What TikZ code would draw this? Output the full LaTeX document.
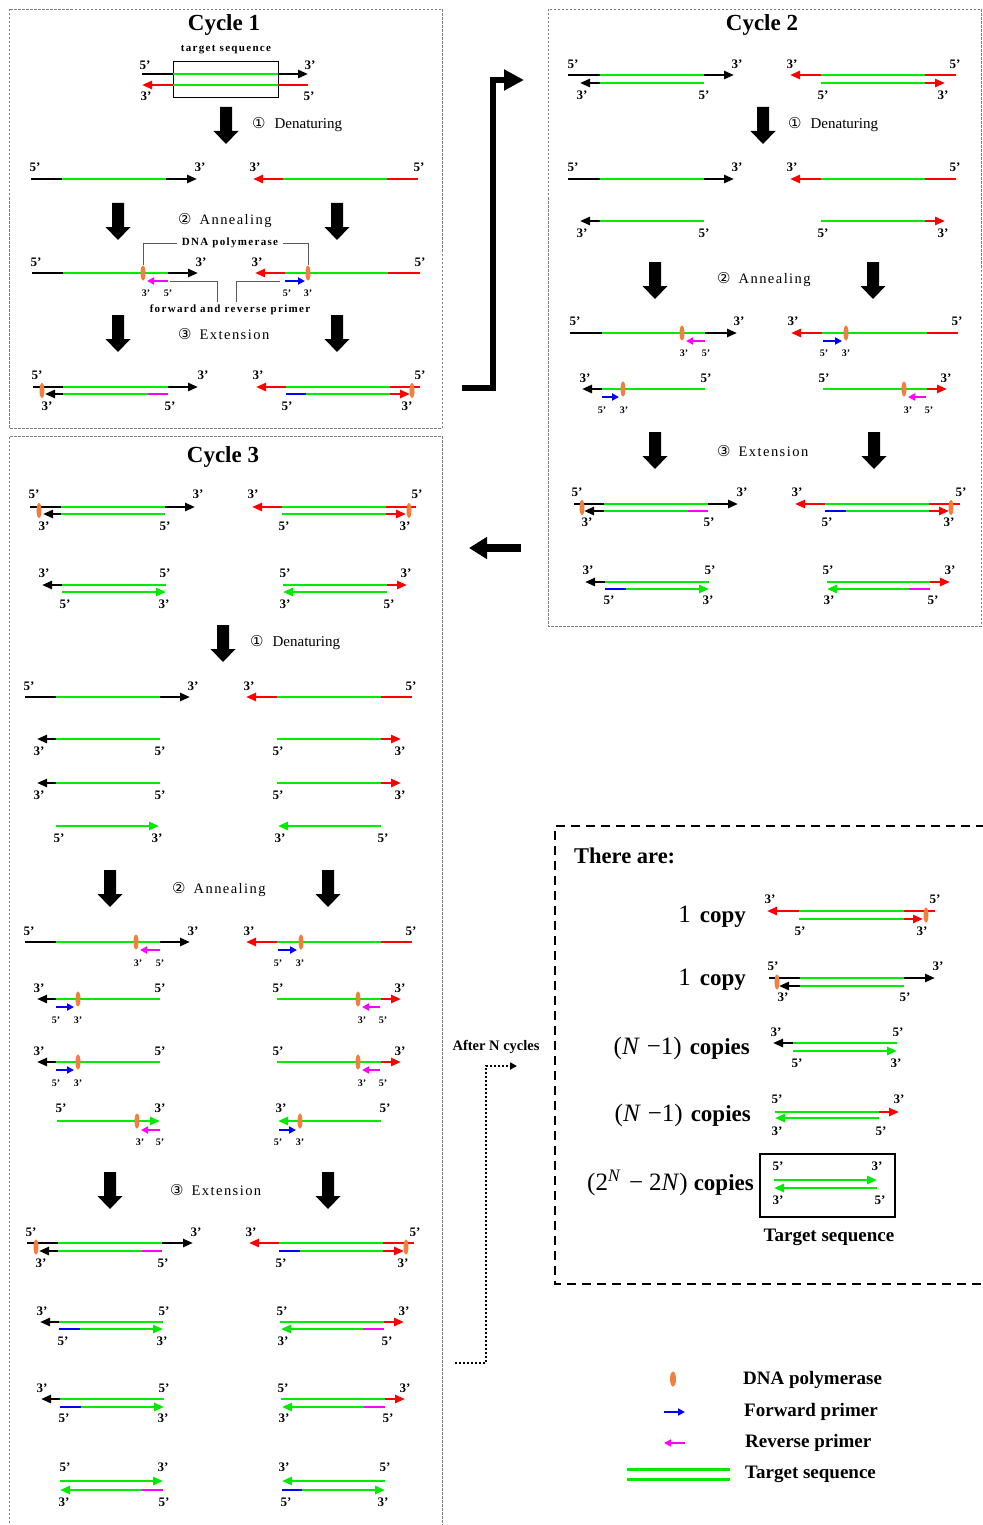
\documentclass[tikz,border=0pt]{standalone}
\usepackage{fontspec}
\setmainfont{Liberation Serif}
\newfontfamily\symf{DejaVu Sans}
\newfontfamily\spacedf[LetterSpace=10]{Liberation Serif}
\newfontfamily\spacedbf[LetterSpace=12]{Liberation Serif}
\usetikzlibrary{arrows.meta,shapes.geometric}

\definecolor{gr}{RGB}{0,235,0}
\definecolor{rd}{RGB}{255,0,0}
\definecolor{bl}{RGB}{0,0,255}
\definecolor{mg}{RGB}{255,0,255}
\definecolor{og}{RGB}{240,128,64}
\definecolor{pg}{RGB}{125,125,125}

% fonts
\newcommand\fLab{\fontsize{13}{13}\selectfont\bfseries}
\newcommand\fSm{\fontsize{10}{10}\selectfont\bfseries}
\newcommand\fTitle{\fontsize{23}{23}\selectfont\bfseries}
\newcommand\fTiny{\spacedbf\fontsize{11}{11}\selectfont\bfseries}
\newcommand\fCopy{\fontsize{23}{23}\selectfont\bfseries}
\newcommand\fMath{\fontsize{25}{25}\selectfont\mdseries}
\newcommand\fLeg{\fontsize{19}{19}\selectfont\bfseries}
\newcommand\cn[1]{{\symf\fontsize{15}{15}\selectfont #1}}
\newcommand\stA{\spacedf\fontsize{14.5}{14.5}\selectfont}
\newcommand\stD{\fontsize{15}{15}\selectfont}

\tikzset{
  x=1pt, y=-1pt,
  strand/.style={line width=2.8pt, line cap=butt},
  tipA/.style={-{Triangle[length=10pt,width=8pt]}},
  prim/.style={line width=2.5pt, line cap=butt, -{Triangle[length=7pt,width=7pt]}},
  pol/.style={ellipse, fill=og, draw=none, minimum width=5pt, minimum height=15pt, inner sep=0pt},
  lab/.style={font=\fLab, inner sep=0pt},
  slab/.style={font=\fSm, inner sep=0pt},
  panel/.style={draw=pg, line width=0.9pt, dash pattern=on 2.5pt off 1.5pt},
  brk/.style={draw=black!65, line width=0.9pt},
  stagelab/.style={anchor=west, inner sep=0pt},
}

% strand pieces: colour, x from, x to, y
\newcommand\Sg[4]{\draw[strand,#1] (#2,#4) -- (#3,#4);}
\newcommand\Sa[4]{\draw[strand,#1,tipA] (#2,#4) -- (#3,#4);}
\newcommand\Pa[4]{\draw[prim,#1] (#2,#4) -- (#3,#4);}
\newcounter{nd}
\newcommand\Lb[3]{\stepcounter{nd}\node[lab] (q\arabic{nd}) at (#1,#2) {#3’};}
\newcommand\Ls[3]{\stepcounter{nd}\node[slab] (q\arabic{nd}) at (#1,#2) {#3’};}
\newcommand\Pol[2]{\stepcounter{nd}\node[pol] (q\arabic{nd}) at (#1,#2) {};}
% thick process arrow pointing down: centre x, top y
\newcommand\Dn[2]{\fill[black] (#1-6,#2) -- (#1+6,#2) -- (#1+6,#2+24) -- (#1+12.5,#2+24) -- (#1,#2+37) -- (#1-12.5,#2+24) -- (#1-6,#2+24) -- cycle;}

\begin{document}
\begin{tikzpicture}
\useasboundingbox (0,0) rectangle (982,1525);
\fill[white] (0,0) rectangle (982,1525);

% ---------------- panels ----------------
\draw[panel] (9,9) rectangle (442,428);
\draw[panel] (548,9) rectangle (981,626);
\draw[panel] (9,1535) -- (9,436) -- (442,436) -- (442,1535);

% ================= Cycle 1 =================
\node[font=\fTitle] (c1) at (224,25) {Cycle 1};
\node[font=\fTiny, inner sep=0pt] (ts) at (226,50) {target sequence};
\draw[line width=0.8pt] (173,61) rectangle (278,97);
\Sg{black}{142}{173}{74} \Sg{gr}{173}{278}{74} \Sa{black}{278}{308}{74}
\Sa{rd}{173}{142}{85} \Sg{gr}{173}{278}{85} \Sg{rd}{278}{308}{85}
\Lb{145}{65}{5} \Lb{310}{65}{3} \Lb{146}{96}{3} \Lb{309}{96}{5}

\Dn{226}{107}
\node[stagelab] (d1) at (252,125) {\cn{①}\hspace{9pt}\stD Denaturing};

\Sg{black}{31}{62}{179} \Sg{gr}{62}{166}{179} \Sa{black}{166}{197}{179}
\Lb{35}{167}{5} \Lb{200}{167}{3}
\Sa{rd}{283}{253}{179} \Sg{gr}{283}{387}{179} \Sg{rd}{387}{418}{179}
\Lb{255}{167}{3} \Lb{419}{167}{5}

\Dn{118}{203} \Dn{337}{203}
\node[stagelab] (a1) at (178,221) {\cn{②}\hspace{8pt}\stA Annealing};

\Sg{black}{32}{63}{273} \Sg{gr}{63}{168}{273} \Sa{black}{168}{198}{273}
\node[pol] (p1) at (143,273) {};
\Pa{mg}{168}{147}{281}
\Ls{146}{293}{3} \Ls{168}{293}{5}
\Lb{36}{262}{5} \Lb{201}{262}{3}
\Sa{rd}{285}{255}{273} \Sg{gr}{285}{388}{273} \Sg{rd}{388}{420}{273}
\node[pol] (p2) at (308,273) {};
\Pa{bl}{285}{305}{281}
\Ls{287}{293}{5} \Ls{308}{293}{3}
\Lb{257}{262}{3} \Lb{420}{262}{5}

\node[font=\fTiny, inner sep=5pt] (dpt) at (230,243) {DNA polymerase};
\draw[brk] (dpt.west) -| (p1.north);
\draw[brk] (dpt.east) -| (p2.north);
\node[font=\fTiny, inner sep=0pt] (fr) at (230,310) {forward and reverse primer};
\coordinate (mT) at (170,281); \coordinate (fa) at (217,302);
\coordinate (bT) at (280,281); \coordinate (fb) at (236,302);
\draw[brk] (mT) -| (fa);
\draw[brk] (bT) -| (fb);

\Dn{118}{315} \Dn{337}{315}
\node[stagelab] (e1) at (178,334) {\cn{③}\hspace{8pt}\stA Extension};

\Sg{black}{33}{63}{387} \Sg{gr}{63}{168}{387} \Sa{black}{168}{198}{387}
\Sa{black}{63}{45}{394} \Sg{gr}{63}{148}{394} \Sg{mg}{148}{168}{394}
\Pol{42}{390.5}
\Lb{37}{375}{5} \Lb{203}{375}{3} \Lb{47}{406}{3} \Lb{170}{406}{5}
\Sa{rd}{286}{256}{387} \Sg{gr}{286}{390}{387} \Sg{rd}{390}{420}{387}
\Sg{bl}{286}{306}{394} \Sg{gr}{306}{390}{394} \Sa{rd}{390}{410}{394}
\Pol{412}{390.5}
\Lb{258}{375}{3} \Lb{420}{375}{5} \Lb{287}{406}{5} \Lb{407}{406}{3}

% ================= Cycle 2 =================
\node[font=\fTitle] (c2) at (762,25) {Cycle 2};
\Sg{black}{568}{600}{75} \Sg{gr}{600}{704}{75} \Sa{black}{704}{734}{75}
\Sa{black}{600}{580}{83} \Sg{gr}{600}{704}{83}
\Lb{573}{64}{5} \Lb{737}{64}{3} \Lb{582}{95}{3} \Lb{704}{95}{5}
\Sa{rd}{821}{790}{75} \Sg{gr}{821}{925}{75} \Sg{rd}{925}{956}{75}
\Sg{gr}{821}{925}{83} \Sa{rd}{925}{945}{83}
\Lb{792}{64}{3} \Lb{955}{64}{5} \Lb{823}{95}{5} \Lb{943}{95}{3}

\Dn{763}{107}
\node[stagelab] (d2) at (788,125) {\cn{①}\hspace{9pt}\stD Denaturing};

\Sg{black}{568}{600}{179} \Sg{gr}{600}{704}{179} \Sa{black}{704}{734}{179}
\Lb{573}{167}{5} \Lb{737}{167}{3}
\Sa{rd}{821}{790}{179} \Sg{gr}{821}{925}{179} \Sg{rd}{925}{956}{179}
\Lb{792}{167}{3} \Lb{955}{167}{5}

\Sa{black}{600}{580}{221} \Sg{gr}{600}{704}{221}
\Lb{582}{233}{3} \Lb{704}{233}{5}
\Sg{gr}{821}{925}{221} \Sa{rd}{925}{945}{221}
\Lb{823}{233}{5} \Lb{943}{233}{3}

\Dn{655}{262} \Dn{873}{262}
\node[stagelab] (a2) at (717,280) {\cn{②}\hspace{8pt}\stA Annealing};

\Sg{black}{570}{602}{333} \Sg{gr}{602}{705}{333} \Sa{black}{705}{737}{333}
\Pol{682}{333} \Pa{mg}{705}{686}{341}
\Ls{684}{353}{3} \Ls{706}{353}{5}
\Lb{575}{321}{5} \Lb{739}{321}{3}
\Sa{rd}{822}{791}{333} \Sg{gr}{822}{927}{333} \Sg{rd}{927}{958}{333}
\Pol{846}{333} \Pa{bl}{823}{842}{341}
\Ls{824}{353}{5} \Ls{846}{353}{3}
\Lb{793}{321}{3} \Lb{957}{321}{5}

\Sa{black}{602}{582}{389} \Sg{gr}{602}{705}{389}
\Pol{623}{389} \Pa{bl}{602}{619}{397}
\Ls{602}{410}{5} \Ls{624}{410}{3}
\Lb{585}{378}{3} \Lb{706}{378}{5}
\Sg{gr}{823}{927}{389} \Sa{rd}{927}{947}{389}
\Pol{904}{389} \Pa{mg}{926}{908}{397}
\Ls{908}{410}{3} \Ls{929}{410}{5}
\Lb{824}{378}{5} \Lb{946}{378}{3}

\Dn{655}{432} \Dn{874}{432}
\node[stagelab] (e2) at (717,451) {\cn{③}\hspace{8pt}\stA Extension};

\Sg{black}{574}{604}{504} \Sg{gr}{604}{708}{504} \Sa{black}{708}{738}{504}
\Sa{black}{604}{584}{511} \Sg{gr}{604}{688}{511} \Sg{mg}{688}{708}{511}
\Pol{582}{507.5}
\Lb{577}{492}{5} \Lb{742}{492}{3} \Lb{587}{522}{3} \Lb{709}{522}{5}
\Sa{rd}{825}{795}{504} \Sg{gr}{825}{929}{504} \Sg{rd}{929}{960}{504}
\Sg{bl}{825}{846}{511} \Sg{gr}{846}{929}{511} \Sa{rd}{929}{949}{511}
\Pol{951}{507.5}
\Lb{797}{492}{3} \Lb{961}{492}{5} \Lb{827}{522}{5} \Lb{949}{522}{3}

\Sa{black}{605}{585}{582} \Sg{gr}{605}{709}{582}
\Sg{bl}{605}{626}{589} \Sa{gr}{626}{709}{589}
\Lb{588}{570}{3} \Lb{710}{570}{5} \Lb{609}{600}{5} \Lb{708}{600}{3}
\Sg{gr}{827}{930}{582} \Sa{rd}{930}{950}{582}
\Sa{gr}{909}{827}{589} \Sg{mg}{909}{930}{589}
\Lb{828}{570}{5} \Lb{950}{570}{3} \Lb{829}{600}{3} \Lb{933}{600}{5}

% ---------------- arrows between cycles ----------------
\coordinate (j1) at (462,388); \coordinate (j2) at (493,388);
\coordinate (j3) at (493,80); \coordinate (j4) at (524,80);
\draw[line width=6.5pt, -{Triangle[length=20pt,width=20pt]}] (j1) -- (j2) -- (j3) -- (j4);
\coordinate (k1) at (521,548); \coordinate (k2) at (469,548);
\draw[line width=8pt, -{Triangle[length=18pt,width=21pt]}] (k1) -- (k2);

% ================= Cycle 3 =================
\node[font=\fTitle] (c3) at (223,457) {Cycle 3};
\Sg{black}{30}{61}{507} \Sg{gr}{61}{165}{507} \Sa{black}{165}{195}{507}
\Sa{black}{61}{43}{514} \Sg{gr}{61}{165}{514}
\Pol{39}{510.5}
\Lb{34}{494}{5} \Lb{198}{494}{3} \Lb{44}{526}{3} \Lb{165}{526}{5}
\Sa{rd}{282}{252}{507} \Sg{gr}{282}{386}{507} \Sg{rd}{386}{416}{507}
\Sg{gr}{282}{386}{514} \Sa{rd}{386}{406}{514}
\Pol{409}{510.5}
\Lb{253}{494}{3} \Lb{417}{494}{5} \Lb{284}{526}{5} \Lb{405}{526}{3}

\Sa{black}{62}{42}{585} \Sg{gr}{62}{166}{585}
\Sa{gr}{62}{166}{592}
\Lb{44}{573}{3} \Lb{165}{573}{5} \Lb{65}{604}{5} \Lb{164}{604}{3}
\Sg{gr}{283}{387}{585} \Sa{rd}{387}{407}{585}
\Sa{gr}{387}{283}{592}
\Lb{285}{573}{5} \Lb{406}{573}{3} \Lb{285}{604}{3} \Lb{389}{604}{5}

\Dn{223}{625}
\node[stagelab] (d3) at (250,643) {\cn{①}\hspace{9pt}\stD Denaturing};

\Sg{black}{25}{56}{697} \Sg{gr}{56}{160}{697} \Sa{black}{160}{190}{697}
\Lb{29}{686}{5} \Lb{193}{686}{3}
\Sa{rd}{277}{246}{697} \Sg{gr}{277}{381}{697} \Sg{rd}{381}{412}{697}
\Lb{249}{686}{3} \Lb{411}{686}{5}

\Sa{black}{56}{37}{739} \Sg{gr}{56}{160}{739}
\Lb{39}{751}{3} \Lb{160}{751}{5}
\Sg{gr}{277}{381}{739} \Sa{rd}{381}{401}{739}
\Lb{278}{751}{5} \Lb{400}{751}{3}

\Sa{black}{56}{37}{783} \Sg{gr}{56}{160}{783}
\Lb{39}{795}{3} \Lb{160}{795}{5}
\Sg{gr}{277}{381}{783} \Sa{rd}{381}{401}{783}
\Lb{278}{795}{5} \Lb{400}{795}{3}

\Sa{gr}{56}{159}{826}
\Lb{59}{838}{5} \Lb{157}{838}{3}
\Sa{gr}{381}{278}{826}
\Lb{280}{838}{3} \Lb{383}{838}{5}

\Dn{110}{870} \Dn{328}{870}
\node[stagelab] (a3) at (172,890) {\cn{②}\hspace{8pt}\stA Annealing};

\Sg{black}{25}{56}{942} \Sg{gr}{56}{160}{942} \Sa{black}{160}{190}{942}
\Pol{136}{942} \Pa{mg}{160}{140}{950}
\Ls{138}{963}{3} \Ls{160}{963}{5}
\Lb{29}{931}{5} \Lb{193}{931}{3}
\Sa{rd}{277}{246}{942} \Sg{gr}{277}{381}{942} \Sg{rd}{381}{412}{942}
\Pol{301}{942} \Pa{bl}{278}{297}{950}
\Ls{278}{963}{5} \Ls{300}{963}{3}
\Lb{249}{931}{3} \Lb{411}{931}{5}

\Sa{black}{56}{37}{999} \Sg{gr}{56}{160}{999}
\Pol{78}{999} \Pa{bl}{56}{74}{1007}
\Ls{56}{1020}{5} \Ls{78}{1020}{3}
\Lb{39}{988}{3} \Lb{160}{988}{5}
\Sg{gr}{277}{381}{999} \Sa{rd}{381}{401}{999}
\Pol{358}{999} \Pa{mg}{380}{362}{1007}
\Ls{362}{1020}{3} \Ls{383}{1020}{5}
\Lb{278}{988}{5} \Lb{400}{988}{3}

\Sa{black}{56}{37}{1062} \Sg{gr}{56}{160}{1062}
\Pol{78}{1062} \Pa{bl}{56}{74}{1070}
\Ls{56}{1083}{5} \Ls{78}{1083}{3}
\Lb{39}{1051}{3} \Lb{160}{1051}{5}
\Sg{gr}{277}{381}{1062} \Sa{rd}{381}{401}{1062}
\Pol{358}{1062} \Pa{mg}{380}{362}{1070}
\Ls{362}{1083}{3} \Ls{383}{1083}{5}
\Lb{278}{1051}{5} \Lb{400}{1051}{3}

\Sa{gr}{57}{160}{1121}
\Pol{137}{1121} \Pa{mg}{160}{141}{1130}
\Ls{140}{1142}{3} \Ls{160}{1142}{5}
\Lb{61}{1108}{5} \Lb{160}{1108}{3}
\Sa{gr}{381}{278}{1121}
\Pol{300}{1121} \Pa{bl}{279}{296}{1130}
\Ls{278}{1142}{5} \Ls{300}{1142}{3}
\Lb{281}{1108}{3} \Lb{385}{1108}{5}

\Dn{110}{1172} \Dn{328}{1172}
\node[stagelab] (e3) at (170,1190) {\cn{③}\hspace{8pt}\stA Extension};

\Sg{black}{27}{58}{1243} \Sg{gr}{58}{162}{1243} \Sa{black}{162}{193}{1243}
\Sa{black}{58}{39}{1251} \Sg{gr}{58}{142}{1251} \Sg{mg}{142}{162}{1251}
\Pol{36}{1247}
\Lb{31}{1232}{5} \Lb{196}{1232}{3} \Lb{41}{1263}{3} \Lb{163}{1263}{5}
\Sa{rd}{279}{249}{1243} \Sg{gr}{279}{383}{1243} \Sg{rd}{383}{414}{1243}
\Sg{bl}{279}{300}{1251} \Sg{gr}{300}{383}{1251} \Sa{rd}{383}{404}{1251}
\Pol{406}{1247}
\Lb{251}{1232}{3} \Lb{415}{1232}{5} \Lb{281}{1263}{5} \Lb{403}{1263}{3}

\Sa{black}{59}{40}{1322} \Sg{gr}{59}{163}{1322}
\Sg{bl}{59}{80}{1329} \Sa{gr}{80}{163}{1329}
\Lb{42}{1311}{3} \Lb{164}{1311}{5} \Lb{63}{1341}{5} \Lb{162}{1341}{3}
\Sg{gr}{280}{384}{1322} \Sa{rd}{384}{404}{1322}
\Sa{gr}{363}{281}{1329} \Sg{mg}{363}{384}{1329}
\Lb{282}{1311}{5} \Lb{404}{1311}{3} \Lb{283}{1341}{3} \Lb{387}{1341}{5}

\Sa{black}{60}{41}{1399} \Sg{gr}{60}{164}{1399}
\Sg{bl}{60}{81}{1407} \Sa{gr}{81}{164}{1407}
\Lb{42}{1388}{3} \Lb{164}{1388}{5} \Lb{64}{1418}{5} \Lb{163}{1418}{3}
\Sg{gr}{281}{385}{1399} \Sa{rd}{385}{405}{1399}
\Sa{gr}{364}{282}{1407} \Sg{mg}{364}{385}{1407}
\Lb{283}{1388}{5} \Lb{405}{1388}{3} \Lb{284}{1418}{3} \Lb{388}{1418}{5}

\Sa{gr}{60}{163}{1481}
\Sa{gr}{142}{60}{1490} \Sg{mg}{142}{163}{1490}
\Lb{65}{1467}{5} \Lb{163}{1467}{3} \Lb{64}{1502}{3} \Lb{164}{1502}{5}
\Sa{gr}{385}{282}{1481}
\Sg{bl}{282}{302}{1490} \Sa{gr}{302}{385}{1490}
\Lb{284}{1467}{3} \Lb{385}{1467}{5} \Lb{286}{1502}{5} \Lb{383}{1502}{3}

% ---------------- after N cycles ----------------
\node[font=\fontsize{14.5}{14.5}\selectfont\bfseries] (an) at (496,1047) {After N cycles};
\coordinate (n1) at (455,1363); \coordinate (n2) at (486,1363);
\coordinate (n3) at (486,1066); \coordinate (n4) at (517,1066);
\draw[line width=2pt, dash pattern=on 2pt off 2pt, -{Triangle[length=7pt,width=7pt]}] (n1) -- (n2) -- (n3) -- (n4);

\draw[line width=2.6pt, dash pattern=on 9pt off 6pt] (985,826) -- (555,826) -- (555,1284) -- (985,1284);
\node[anchor=west, font=\fontsize{22.5}{22.5}\selectfont\bfseries, inner sep=0pt] (there) at (574,856) {There are:};

\node[anchor=east, font=\fCopy, inner sep=0pt] (m1) at (746,917) {{\fMath 1}\hspace{9pt}copy};
\Sa{rd}{799}{767}{911} \Sg{gr}{799}{904}{911} \Sg{rd}{904}{935}{911}
\Sg{gr}{799}{904}{919} \Sa{rd}{904}{923}{919}
\Pol{926}{915}
\Lb{770}{899}{3} \Lb{935}{899}{5} \Lb{800}{931}{5} \Lb{922}{931}{3}

\node[anchor=east, font=\fCopy, inner sep=0pt] (m2) at (746,980) {{\fMath 1}\hspace{9pt}copy};
\Sg{black}{769}{800}{978} \Sg{gr}{800}{904}{978} \Sa{black}{904}{935}{978}
\Sa{black}{800}{779}{986} \Sg{gr}{800}{904}{986}
\Pol{777}{982}
\Lb{773}{966}{5} \Lb{938}{966}{3} \Lb{783}{997}{3} \Lb{905}{997}{5}

\node[anchor=east, font=\fCopy, inner sep=0pt] (m3) at (750,1048) {{\fMath (\textit{N}\hspace{7pt}−1)}\hspace{8pt}copies};
\Sa{black}{793}{773}{1043} \Sg{gr}{793}{897}{1043}
\Sa{gr}{793}{897}{1051}
\Lb{776}{1032}{3} \Lb{898}{1032}{5} \Lb{797}{1063}{5} \Lb{896}{1063}{3}

\node[anchor=east, font=\fCopy, inner sep=0pt] (m4) at (751,1115) {{\fMath (\textit{N}\hspace{7pt}−1)}\hspace{8pt}copies};
\Sg{gr}{775}{879}{1112} \Sa{rd}{879}{899}{1112}
\Sa{gr}{879}{775}{1118}
\Lb{777}{1099}{5} \Lb{899}{1099}{3} \Lb{777}{1131}{3} \Lb{881}{1131}{5}

\node[anchor=east, font=\fCopy, inner sep=0pt] (m5) at (754,1183) {{\fMath (2\textsuperscript{\textit{N}}\hspace{8pt}−\hspace{6pt}2\textit{N})}\hspace{6pt}copies};
\draw[line width=2.5pt] (760,1154) rectangle (895,1217);
\Sa{gr}{774}{877}{1180}
\Sa{gr}{877}{774}{1188}
\Lb{778}{1166}{5} \Lb{877}{1166}{3} \Lb{778}{1200}{3} \Lb{880}{1200}{5}
\node[font=\fLeg] (tg) at (829,1237) {Target sequence};

% ---------------- legend ----------------
\node[pol, minimum width=6pt] (lp) at (673,1379) {};
\node[anchor=west, font=\fLeg, inner sep=0pt] (l1) at (743,1380) {DNA polymerase};
\Pa{bl}{664}{685}{1412}
\node[anchor=west, font=\fLeg, inner sep=0pt] (l2) at (744,1412) {Forward primer};
\Pa{mg}{685}{664}{1443}
\node[anchor=west, font=\fLeg, inner sep=0pt] (l3) at (745,1443) {Reverse primer};
\draw[gr, line width=3pt] (627,1469) -- (730,1469);
\draw[gr, line width=3pt] (627,1479) -- (730,1479);
\node[anchor=west, font=\fLeg, inner sep=0pt] (l4) at (745,1474) {Target sequence};
\end{tikzpicture}
\end{document}
